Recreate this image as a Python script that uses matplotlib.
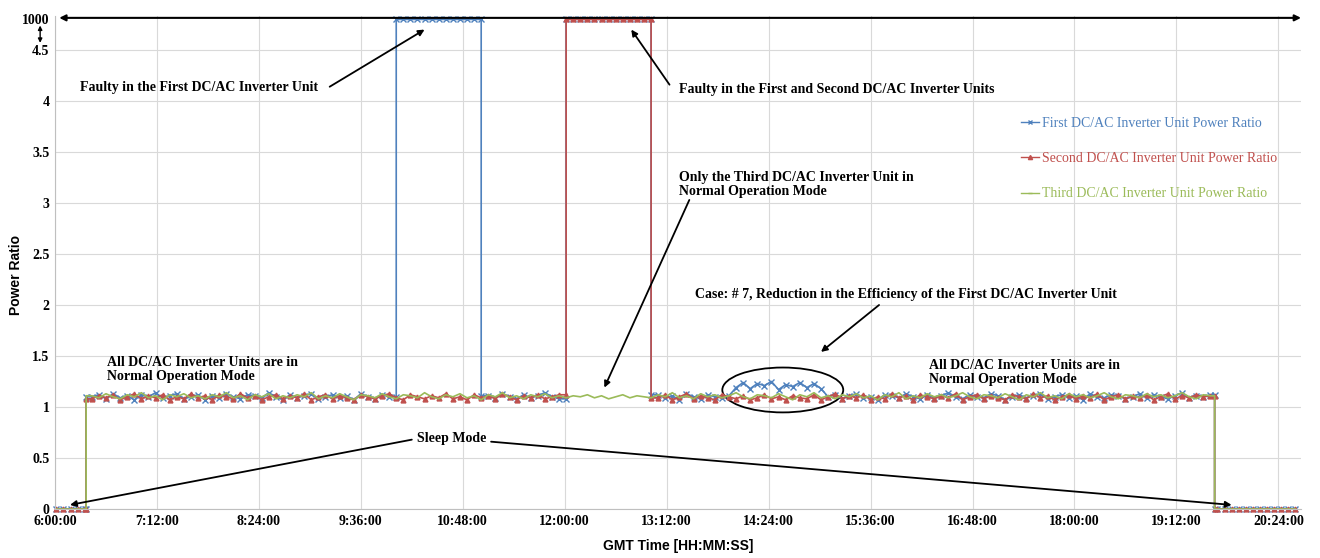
import numpy as np
import matplotlib
matplotlib.use("Agg")
import matplotlib.pyplot as plt
from matplotlib.patches import Ellipse

# time axis in minutes after 6:00:00 (one sample every 5 min)
t_morning = np.arange(1, 22, 5)     # sleep before wake-up
t_active = np.arange(26, 817, 5)    # inverters running
t_evening = np.arange(821, 880, 5)  # sleep after sunset
t_wake = 22
t_sleep = 819
t_end = 880
FAULT = 1000

first_ratio = ([1.10, 1.12, 1.08, 1.13, 1.09, 1.11, 1.07, 1.12, 1.10, 1.14,
                1.09, 1.11, 1.13, 1.08, 1.10, 1.12, 1.07, 1.11, 1.09, 1.13,
                1.10, 1.08, 1.12, 1.11, 1.09, 1.14, 1.10, 1.07, 1.12, 1.09,
                1.11, 1.13, 1.08, 1.10, 1.12, 1.09, 1.11, 1.07, 1.13, 1.10,
                1.08, 1.12, 1.10]
               + [FAULT] * 13
               + [1.11, 1.09, 1.13, 1.10, 1.08, 1.12, 1.09, 1.11, 1.14, 1.10, 1.08]
               + [FAULT] * 13
               + [1.12, 1.09, 1.11, 1.07, 1.13, 1.10, 1.08, 1.12, 1.10, 1.09, 1.11]
               + [1.19, 1.24, 1.18, 1.23, 1.21, 1.25, 1.17, 1.22, 1.20, 1.24, 1.19, 1.23, 1.18]
               + [1.10, 1.12, 1.08, 1.11, 1.13, 1.09, 1.10, 1.07, 1.12, 1.11,
                  1.09, 1.13, 1.10, 1.08, 1.12, 1.09, 1.11, 1.14, 1.10, 1.08,
                  1.12, 1.10, 1.09, 1.13, 1.11, 1.07, 1.10, 1.12, 1.09, 1.11,
                  1.13, 1.08, 1.10, 1.12, 1.09, 1.11, 1.07, 1.13, 1.10, 1.09,
                  1.12, 1.11, 1.08, 1.10, 1.13, 1.09, 1.12, 1.10, 1.08, 1.11,
                  1.14, 1.09, 1.11, 1.10, 1.12])

second_ratio = ([1.08, 1.11, 1.09, 1.12, 1.07, 1.10, 1.13, 1.08, 1.11, 1.09,
                 1.12, 1.07, 1.10, 1.08, 1.13, 1.09, 1.11, 1.07, 1.12, 1.10,
                 1.08, 1.13, 1.09, 1.11, 1.07, 1.10, 1.12, 1.08, 1.11, 1.09,
                 1.13, 1.07, 1.10, 1.12, 1.08, 1.11, 1.09, 1.07, 1.12, 1.10,
                 1.08, 1.11, 1.13, 1.09, 1.07, 1.12, 1.10, 1.08, 1.11, 1.09,
                 1.13, 1.08, 1.10, 1.07, 1.12, 1.09, 1.11, 1.08, 1.13, 1.10,
                 1.07, 1.11, 1.09, 1.12, 1.08, 1.10, 1.12]
                + [FAULT] * 13
                + [1.09, 1.12, 1.07, 1.10, 1.13, 1.08, 1.11, 1.09, 1.07, 1.12,
                   1.10, 1.08, 1.11, 1.07, 1.09, 1.12, 1.08, 1.10, 1.07, 1.11,
                   1.09, 1.08, 1.12, 1.07, 1.10, 1.13, 1.08, 1.11, 1.09, 1.12,
                   1.07, 1.10, 1.08, 1.13, 1.09, 1.11, 1.07, 1.12, 1.10, 1.08,
                   1.11, 1.09, 1.13, 1.07, 1.10, 1.12, 1.08, 1.11, 1.09, 1.07,
                   1.12, 1.10, 1.08, 1.13, 1.09, 1.11, 1.07, 1.10, 1.12, 1.08,
                   1.11, 1.09, 1.13, 1.07, 1.10, 1.12, 1.08, 1.11, 1.09, 1.12,
                   1.07, 1.10, 1.13, 1.08, 1.11, 1.09, 1.12, 1.10, 1.11])

third_ratio = [1.11, 1.09, 1.13, 1.10, 1.08, 1.12, 1.10, 1.14, 1.09, 1.11,
               1.07, 1.12, 1.10, 1.13, 1.09, 1.11, 1.08, 1.12, 1.10, 1.14,
               1.09, 1.11, 1.07, 1.12, 1.10, 1.13, 1.08, 1.11, 1.09, 1.12,
               1.10, 1.14, 1.08, 1.11, 1.09, 1.13, 1.10, 1.07, 1.12, 1.11,
               1.09, 1.13, 1.10, 1.08, 1.12, 1.11, 1.09, 1.14, 1.10, 1.08,
               1.12, 1.10, 1.13, 1.09, 1.11, 1.07, 1.12, 1.10, 1.14, 1.09,
               1.11, 1.08, 1.12, 1.10, 1.13, 1.09, 1.11,
               1.09, 1.11, 1.10, 1.12, 1.09, 1.11, 1.08, 1.10, 1.12, 1.09, 1.11, 1.10, 1.09,
               1.12, 1.10, 1.14, 1.09, 1.11, 1.08, 1.13, 1.10, 1.12, 1.09,
               1.11, 1.14, 1.10, 1.08, 1.12, 1.11, 1.09, 1.13, 1.10, 1.07,
               1.12, 1.10, 1.14, 1.09, 1.11, 1.08, 1.12, 1.10, 1.13, 1.09,
               1.11, 1.07, 1.12, 1.10, 1.14, 1.08, 1.11, 1.09, 1.13, 1.10,
               1.12, 1.09, 1.11, 1.14, 1.10, 1.08, 1.12, 1.11, 1.09, 1.13,
               1.10, 1.07, 1.12, 1.10, 1.14, 1.09, 1.11, 1.08, 1.13, 1.10,
               1.12, 1.09, 1.11, 1.14, 1.10, 1.08, 1.12, 1.11, 1.09, 1.13,
               1.10, 1.12, 1.09, 1.11, 1.14, 1.10, 1.08, 1.12, 1.11]

series_names = ["First DC/AC Inverter Unit Power Ratio",
                "Second DC/AC Inverter Unit Power Ratio",
                "Third DC/AC Inverter Unit Power Ratio"]
colors = ["#4F81BD", "#C0504D", "#9BBB59"]
markers = ["x", "^", None]
msizes = [4, 3.5, 4]

TOP = 4.80  # where the "1000" level sits on the broken axis
SERIF = "Liberation Serif"


def full_day(vals):
    # sleep at 0, wake-up step, active samples, sleep again
    t = list(t_morning) + [t_wake, t_wake] + list(t_active) + [t_sleep, t_sleep] + list(t_evening)
    v = [0] * len(t_morning) + [0, vals[0]] + list(vals) + [vals[-1], 0] + [0] * len(t_evening)
    tt, vv = [t[0]], [v[0]]
    for i in range(1, len(t)):
        if v[i] > 100 and v[i - 1] <= 100:
            tt.append(t[i]); vv.append(v[i - 1])
        elif v[i - 1] > 100 and v[i] <= 100:
            tt.append(t[i - 1]); vv.append(v[i])
        tt.append(t[i]); vv.append(v[i])
    vv = np.array(vv, dtype=float)
    return np.array(tt), np.where(vv > 100, TOP, vv)


fig = plt.figure(figsize=(13.2, 5.58), dpi=100)
ax = fig.add_axes([55 / 1320, 49 / 558, 1246 / 1320, 4.83 * 102 / 558])

for vals, c, m, ms, name in zip([first_ratio, second_ratio, third_ratio], colors, markers, msizes, series_names):
    tt, vv = full_day(vals)
    ax.plot(tt, vv, color=c, lw=1.2, marker=m, ms=ms, mew=1.0, label=name, clip_on=False)

ax.set_xlim(0, t_end)
ax.set_ylim(0, 4.83)

xt = np.arange(0, 865, 72)
ax.set_xticks(xt)
ax.set_xticklabels([f"{6 + m // 60}:{m % 60:02d}:00" for m in xt])
yt = list(np.arange(0, 4.51, 0.5)) + [TOP]
ax.set_yticks(yt)
ax.set_yticklabels([f"{y:g}" for y in yt[:-1]] + ["1000"])
for lab in ax.get_xticklabels() + ax.get_yticklabels():
    lab.set_fontfamily(SERIF)
    lab.set_fontweight("bold")
    lab.set_fontsize(10)
ax.tick_params(length=0, pad=4)

ax.grid(True, color="#d9d9d9", lw=0.8)
for gl in ax.get_ygridlines()[-1:]:
    gl.set_visible(False)
ax.set_axisbelow(True)
for s in ["top", "right"]:
    ax.spines[s].set_visible(False)
ax.spines["left"].set_color("#bfbfbf")
ax.spines["bottom"].set_color("#bfbfbf")

ax.set_ylabel("Power Ratio", fontfamily="Liberation Sans", fontweight="bold", fontsize=10)
ax.yaxis.set_label_coords(-32 / 1246, 0.475)
ax.set_xlabel("GMT Time [HH:MM:SS]", fontfamily="Liberation Sans", fontweight="bold", fontsize=10, labelpad=8)

arrow = dict(arrowstyle="-|>", color="black", lw=1.3, mutation_scale=9, shrinkA=0, shrinkB=0)
txt = dict(fontfamily=SERIF, fontweight="bold", fontsize=10)

# broken-axis markers
ax.annotate("", xy=(3, 4.815), xytext=(t_end, 4.815),
            arrowprops=dict(arrowstyle="<|-|>", color="black", lw=1.5, mutation_scale=9, shrinkA=0, shrinkB=0),
            annotation_clip=False)
ax.annotate("", xy=(-10.5, 4.74), xytext=(-10.5, 4.57),
            arrowprops=dict(arrowstyle="<|-|>", color="black", lw=1, mutation_scale=6, shrinkA=0, shrinkB=0),
            annotation_clip=False)

ax.text(17.6, 4.13, "Faulty in the First DC/AC Inverter Unit", va="center", **txt)
ax.annotate("", xy=(261, 4.70), xytext=(194, 4.14), arrowprops=arrow)

ax.text(441, 4.11, "Faulty in the First and Second DC/AC Inverter Units", va="center", **txt)
ax.annotate("", xy=(407, 4.70), xytext=(434, 4.16), arrowprops=arrow)

ax.text(441, 3.18, "Only the Third DC/AC Inverter Unit in\nNormal Operation Mode", va="center",
        linespacing=1.1, **txt)
ax.annotate("", xy=(388, 1.19), xytext=(448, 3.03), arrowprops=arrow)

ax.text(452, 2.10, "Case: # 7, Reduction in the Efficiency of the First DC/AC Inverter Unit", va="center", **txt)
ax.annotate("", xy=(541, 1.54), xytext=(582, 2.0), arrowprops=arrow)
ax.add_patch(Ellipse((514, 1.167), 85.4, 0.44, fill=False, ec="black", lw=1.3))

ax.text(36.7, 1.368, "All DC/AC Inverter Units are in\nNormal Operation Mode", va="center",
        linespacing=1.1, **txt)
ax.text(617.6, 1.338, "All DC/AC Inverter Units are in\nNormal Operation Mode", va="center",
        linespacing=1.1, **txt)

ax.text(280, 0.69, "Sleep Mode", ha="center", va="center", **txt)
ax.annotate("", xy=(10.6, 0.04), xytext=(252, 0.68), arrowprops=arrow)
ax.annotate("", xy=(831, 0.04), xytext=(308, 0.66), arrowprops=arrow)

leg = ax.legend(loc="upper left", bbox_to_anchor=(1014 / 1320, 1 - 110 / 558),
                bbox_transform=fig.transFigure, frameon=False, handlelength=1.3,
                handletextpad=0.2, labelspacing=1.6, borderpad=0, labelcolor="linecolor",
                prop=dict(family=SERIF, size=10))
for h in leg.legend_handles:
    h.set_markersize(3)
    h.set_linewidth(1.0)
leg.legend_handles[2].set_marker("_")

fig.savefig("out.png", dpi=100)
